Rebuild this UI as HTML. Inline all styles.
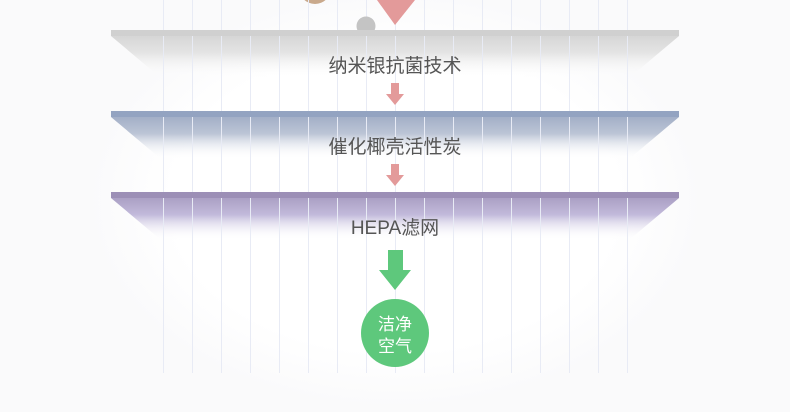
<!DOCTYPE html>
<html><head><meta charset="utf-8"><style>
html,body{margin:0;padding:0;background:#fafafb;}
svg{display:block}
text{font-family:"Liberation Sans","Noto Sans CJK SC",sans-serif;}
</style></head><body>
<svg width="790" height="412" viewBox="0 0 790 412">
<defs>
<radialGradient id="bg" cx="0.5" cy="0.5" r="0.6">
<stop offset="0.6" stop-color="#ffffff"/><stop offset="1" stop-color="#f6f6f8"/>
</radialGradient>
<linearGradient id="g1" x1="0" y1="0" x2="0" y2="1"><stop offset="0" stop-color="#d6d6d6"/><stop offset="0.4" stop-color="#e4e4e4"/><stop offset="1" stop-color="#ffffff" stop-opacity="0"/></linearGradient>
<linearGradient id="g2" x1="0" y1="0" x2="0" y2="1"><stop offset="0" stop-color="#a3afc7"/><stop offset="0.4" stop-color="#bcc5d6"/><stop offset="1" stop-color="#ffffff" stop-opacity="0"/></linearGradient>
<linearGradient id="g3" x1="0" y1="0" x2="0" y2="1"><stop offset="0" stop-color="#aba0c4"/><stop offset="0.4" stop-color="#c2badb"/><stop offset="1" stop-color="#ffffff" stop-opacity="0"/></linearGradient>
</defs>
<rect width="790" height="412" fill="#fafafb"/>
<ellipse cx="395" cy="200" rx="310" ry="210" fill="url(#bg)"/>
<circle cx="315" cy="-12" r="16" fill="#c9a98c"/>
<polygon points="111,36 679,36 629,78 161,78" fill="url(#g1)"/>
<polygon points="111,117 679,117 629,159 161,159" fill="url(#g2)"/>
<polygon points="111,198 679,198 629,240 161,240" fill="url(#g3)"/>
<g stroke="#e8ebf5" stroke-width="1">
<path d="M163.5 0V373M192.5 0V373M221.5 0V373M250.5 0V373M279.5 0V373M308.5 0V373M337.5 0V373M366.5 0V373M395.5 0V373M424.5 0V373M453.5 0V373M482.5 0V373M511.5 0V373M540.5 0V373M569.5 0V373M598.5 0V373M627.5 0V373"/>
</g>
<circle cx="366" cy="26" r="9.5" fill="#c4c4c4"/>
<polygon points="377,0 415,0 395,25" fill="#e39a9a"/>
<rect x="111" y="30" width="568" height="6" fill="#d0d0d0"/>
<rect x="111" y="111" width="568" height="6" fill="#93a3c1"/>
<rect x="111" y="192" width="568" height="6" fill="#9c8fb6"/>
<text x="395" y="72" font-size="19" fill="#555" text-anchor="middle">纳米银抗菌技术</text>
<text x="395" y="153" font-size="19" fill="#555" text-anchor="middle">催化椰壳活性炭</text>
<text x="395" y="234" font-size="19" fill="#555" text-anchor="middle">HEPA滤网</text>
<polygon points="391,83 399,83 399,94 404,94 395,105 386,94 391,94" fill="#e39a9a"/>
<polygon points="391,164 399,164 399,175 404,175 395,186 386,175 391,175" fill="#e39a9a"/>
<polygon points="388,250 403,250 403,270 411,270 395,290 379,270 388,270" fill="#5ec87c"/>
<circle cx="395" cy="333" r="34" fill="#5ec87c"/>
<text x="395" y="330" font-size="17" fill="#fff" text-anchor="middle">洁净</text>
<text x="395" y="352" font-size="17" fill="#fff" text-anchor="middle">空气</text>
</svg>
</body></html>
